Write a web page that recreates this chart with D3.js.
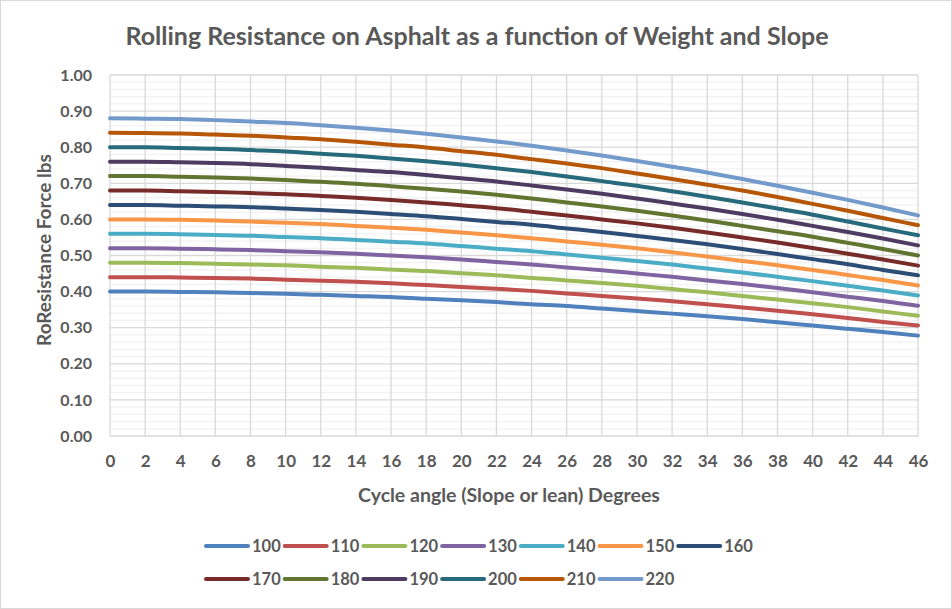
<!DOCTYPE html>
<html><head><meta charset="utf-8">
<script src="https://cdn.jsdelivr.net/npm/d3@7"></script>
<style>
html,body{margin:0;padding:0;background:#fff;}
text{font-family:Lato,"Open Sans",sans-serif;font-weight:bold;fill:#595959;}
</style></head>
<body><svg id="c" width="952" height="609"></svg>
<script>
const angles = [0,2,4,6,8,10,12,14,16,18,20,22,24,26,28,30,32,34,36,38,40,42,44,46];
const weights = ["100","110","120","130","140","150","160","170","180","190","200","210","220"];
const colors = ["#4F81BD","#C0504D","#9BBB59","#8064A2","#4BACC6","#F79646","#2C4D75","#772C2A","#5F7530","#4D3B62","#276A7C","#B65708","#729ACA"];
const yTicks = [0,0.1,0.2,0.3,0.4,0.5,0.6,0.7,0.8,0.9,1.0];

const s100 = [0.400,0.400,0.399,0.398,0.396,0.394,0.391,0.388,0.385,0.380,0.376,0.371,0.365,0.360,0.353,0.346,0.339,0.332,0.324,0.315,0.306,0.297,0.288,0.278];
const s110 = [0.440,0.440,0.439,0.438,0.436,0.433,0.430,0.427,0.423,0.418,0.413,0.408,0.402,0.395,0.388,0.381,0.373,0.365,0.356,0.347,0.337,0.327,0.316,0.306];
const s120 = [0.480,0.480,0.479,0.477,0.475,0.473,0.469,0.466,0.461,0.457,0.451,0.445,0.438,0.431,0.424,0.416,0.407,0.398,0.388,0.378,0.368,0.357,0.345,0.333];
const s130 = [0.520,0.520,0.519,0.517,0.515,0.512,0.509,0.505,0.500,0.495,0.489,0.482,0.475,0.467,0.459,0.450,0.441,0.431,0.421,0.410,0.398,0.386,0.374,0.361];
const s140 = [0.560,0.560,0.559,0.557,0.555,0.551,0.548,0.543,0.538,0.533,0.526,0.519,0.512,0.503,0.494,0.485,0.475,0.464,0.453,0.441,0.429,0.416,0.403,0.389];
const s150 = [0.600,0.600,0.599,0.597,0.594,0.591,0.587,0.582,0.577,0.571,0.564,0.556,0.548,0.539,0.530,0.520,0.509,0.497,0.485,0.473,0.460,0.446,0.432,0.417];
const s160 = [0.640,0.640,0.638,0.636,0.634,0.630,0.626,0.621,0.615,0.609,0.601,0.593,0.585,0.575,0.565,0.554,0.543,0.531,0.518,0.504,0.490,0.476,0.460,0.445];
const s170 = [0.680,0.680,0.678,0.676,0.673,0.670,0.665,0.660,0.654,0.647,0.639,0.631,0.621,0.611,0.600,0.589,0.577,0.564,0.550,0.536,0.521,0.505,0.489,0.472];
const s180 = [0.720,0.720,0.718,0.716,0.713,0.709,0.704,0.699,0.692,0.685,0.677,0.668,0.658,0.647,0.636,0.624,0.611,0.597,0.582,0.567,0.552,0.535,0.518,0.500];
const s190 = [0.760,0.760,0.758,0.756,0.753,0.748,0.743,0.737,0.731,0.723,0.714,0.705,0.694,0.683,0.671,0.658,0.644,0.630,0.615,0.599,0.582,0.565,0.547,0.528];
const s200 = [0.800,0.800,0.798,0.796,0.792,0.788,0.782,0.776,0.769,0.761,0.752,0.742,0.731,0.719,0.706,0.693,0.678,0.663,0.647,0.630,0.613,0.594,0.575,0.556];
const s210 = [0.840,0.839,0.838,0.835,0.832,0.827,0.822,0.815,0.807,0.799,0.789,0.779,0.767,0.755,0.742,0.727,0.712,0.696,0.680,0.662,0.643,0.624,0.604,0.584];
const s220 = [0.880,0.879,0.878,0.875,0.871,0.867,0.861,0.854,0.846,0.837,0.827,0.816,0.804,0.791,0.777,0.762,0.746,0.730,0.712,0.693,0.674,0.654,0.633,0.611];
const seriesValues = [s100,s110,s120,s130,s140,s150,s160,s170,s180,s190,s200,s210,s220];

const svg = d3.select("#c");
svg.append("rect").attr("x",0.5).attr("y",0.5).attr("width",951).attr("height",608)
  .attr("fill","#fff").attr("stroke","#d9d9d9").attr("stroke-width",1);

const L=110, R=918, T=75, B=436;
const x = d3.scalePoint().domain(angles).range([L,R]);
const y = d3.scaleLinear().domain([0,1]).range([B,T]);

// minor gridlines
const minor = d3.range(0,1.0001,0.02).filter(v=>Math.abs(v*10-Math.round(v*10))>1e-6);
svg.append("g").selectAll("line").data(minor).join("line")
  .attr("x1",L).attr("x2",R).attr("y1",d=>y(d)).attr("y2",d=>y(d))
  .attr("stroke","#f2f2f2").attr("stroke-width",1.3);
// major horizontal
svg.append("g").selectAll("line").data(yTicks).join("line")
  .attr("x1",L).attr("x2",R).attr("y1",d=>y(d)).attr("y2",d=>y(d))
  .attr("stroke","#d9d9d9").attr("stroke-width",1.3);
// vertical
svg.append("g").selectAll("line").data(angles).join("line")
  .attr("x1",d=>x(d)).attr("x2",d=>x(d)).attr("y1",T).attr("y2",B)
  .attr("stroke","#d9d9d9").attr("stroke-width",1.3);

// axes labels
const yAxis = d3.axisLeft(y).tickValues(yTicks).tickFormat(d3.format(".2f")).tickSize(0).tickPadding(18);
const gy = svg.append("g").attr("transform",`translate(${L},0)`).call(yAxis);
gy.select(".domain").remove();
gy.selectAll("text").attr("font-size",16).attr("fill","#595959").style("font-family","Lato").style("font-weight","bold");

const xAxis = d3.axisBottom(x).tickSize(0).tickPadding(19);
const gx = svg.append("g").attr("transform",`translate(0,${B})`).call(xAxis);
gx.select(".domain").remove();
gx.selectAll("text").attr("font-size",17).attr("fill","#595959").style("font-family","Lato").style("font-weight","bold");

// lines
const line = d3.line().x((d,i)=>x(angles[i])).y(d=>y(d)).curve(d3.curveMonotoneX);
svg.append("g").selectAll("path").data(seriesValues).join("path")
  .attr("d",line).attr("fill","none").attr("stroke",(d,i)=>colors[i])
  .attr("stroke-width",4).attr("stroke-linejoin","round").attr("stroke-linecap","round");

// titles
svg.append("text").attr("x",477).attr("y",45).attr("text-anchor","middle").attr("font-size",25)
  .text("Rolling Resistance on Asphalt as a function of Weight and Slope");
svg.append("text").attr("transform","translate(51,250) rotate(-90)").attr("text-anchor","middle").attr("font-size",19)
  .text("RoResistance Force lbs");
svg.append("text").attr("x",509).attr("y",502).attr("text-anchor","middle").attr("font-size",19.5)
  .text("Cycle angle (Slope or lean) Degrees");

// legend
const lg = svg.append("g");
weights.forEach((w,i)=>{
  const row = i<7?0:1, col = i<7?i:i-7;
  const lx = 206 + col*78.7, ly = row===0?546:579;
  lg.append("line").attr("x1",lx).attr("x2",lx+42).attr("y1",ly).attr("y2",ly)
    .attr("stroke",colors[i]).attr("stroke-width",4).attr("stroke-linecap","round");
  lg.append("text").attr("x",lx+46).attr("y",ly+6).attr("font-size",16.5).text(w);
});
</script></body></html>
